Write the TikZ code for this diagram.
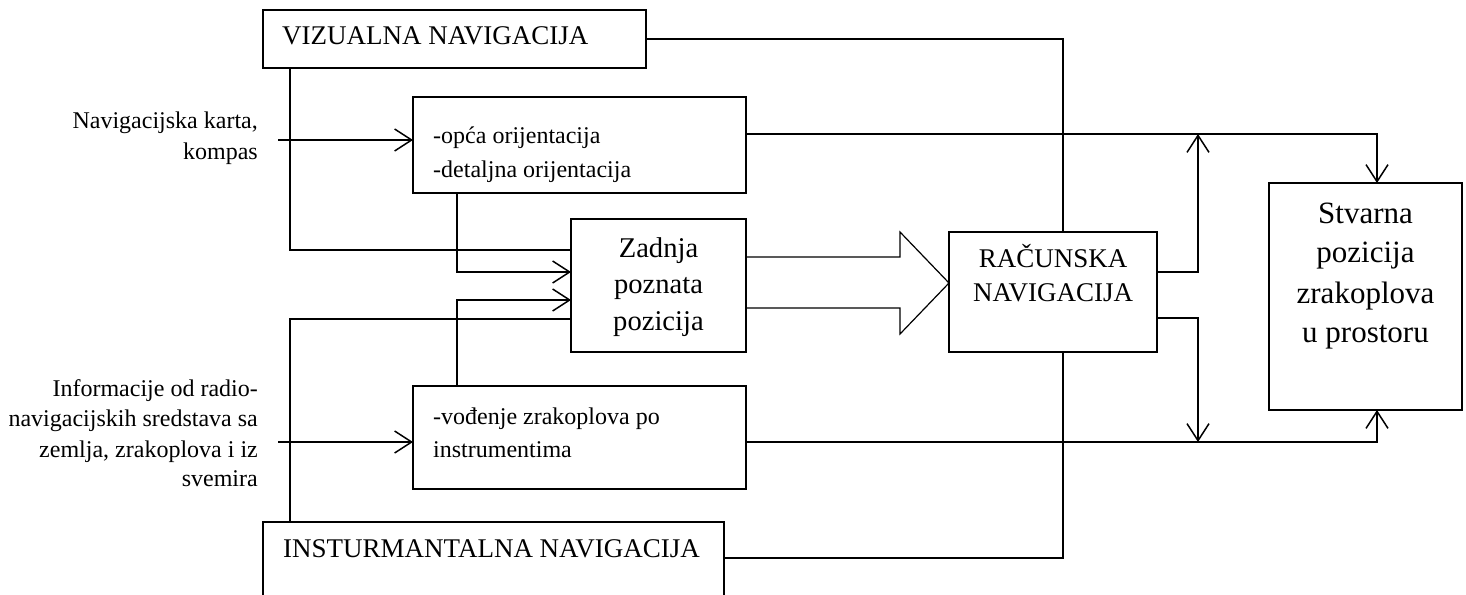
\documentclass[tikz,border=0pt]{standalone}
\usepackage{fontspec}
\setmainfont{Liberation Serif}
\usetikzlibrary{arrows.meta}
\begin{document}
\begin{tikzpicture}[x=1pt,y=-1pt,
  box/.style={draw, line width=1.2pt, anchor=north west, inner sep=0pt, outer sep=0pt},
  ln/.style={line width=1.2pt},
  arr/.style={line width=1.5pt, -{Straight Barb[length=17pt,width=22pt,line width=1.5pt]}},
  tsmall/.style={inner sep=0pt, font=\fontsize{24}{29}\selectfont},
  tcap/.style={inner sep=0pt, font=\fontsize{27}{32}\selectfont},
  tzad/.style={inner sep=0pt, font=\fontsize{28.6}{34}\selectfont},
  tstv/.style={inner sep=0pt, font=\fontsize{31}{37}\selectfont}]
\clip (0,0) rectangle (1466,594);
\useasboundingbox (0,0) rectangle (1466,594);

% boxes
\node[box, minimum width=383pt, minimum height=58pt] (viz) at (263,10) {};
\node[box, minimum width=333pt, minimum height=96pt] (opca) at (413,97) {};
\node[box, minimum width=175pt, minimum height=133pt] (zad) at (571,219) {};
\node[box, minimum width=208pt, minimum height=120pt] (rac) at (949,232) {};
\node[box, minimum width=193pt, minimum height=227pt] (stv) at (1269,183) {};
\node[box, minimum width=333pt, minimum height=103pt] (vod) at (413,386) {};
\node[box, minimum width=461pt, minimum height=100pt] (ins) at (263,522) {};

% texts
\node[tcap, anchor=base west] (vizt) at (282,45) {VIZUALNA NAVIGACIJA};
\node[tcap, anchor=base west] (inst) at (283,557) {INSTURMANTALNA NAVIGACIJA};
\node[tsmall, anchor=base west] (opt1) at (433,143) {-opća orijentacija};
\node[tsmall, anchor=base west] (opt2) at (433,177) {-detaljna orijentacija};
\node[tsmall, anchor=base west] (vodt1) at (433,424) {-vođenje zrakoplova po};
\node[tsmall, anchor=base west] (vodt2) at (433,457) {instrumentima};
\node[tzad, anchor=base] (zt1) at (658.5,257) {Zadnja};
\node[tzad, anchor=base] (zt2) at (658.5,293) {poznata};
\node[tzad, anchor=base] (zt3) at (658.5,330) {pozicija};
\node[tcap, anchor=base] (rt1) at (1053,267) {RAČUNSKA};
\node[tcap, anchor=base] (rt2) at (1053,301) {NAVIGACIJA};
\node[tstv, anchor=base] (st1) at (1365.5,223) {Stvarna};
\node[tstv, anchor=base] (st2) at (1365.5,262) {pozicija};
\node[tstv, anchor=base] (st3) at (1365.5,303) {zrakoplova};
\node[tstv, anchor=base] (st4) at (1365.5,342) {u prostoru};
\node[tsmall, anchor=base east] (la1) at (258,128) {Navigacijska karta,};
\node[tsmall, anchor=base east] (la2) at (258,159) {kompas};
\node[tsmall, anchor=base east] (lb1) at (258,396) {Informacije od radio-};
\node[tsmall, anchor=base east] (lb2) at (258,426) {navigacijskih sredstava sa};
\node[tsmall, anchor=base east] (lb3) at (258,457) {zemlja, zrakoplova i iz};
\node[tsmall, anchor=base east] (lb4) at (258,486) {svemira};

% free ends
\coordinate (ina) at (278,140);
\coordinate (inb) at (278,442);

% connectors
\draw[ln] (viz.south -| 290,0) |- (zad.west |- 0,250);
\draw[arr] (opca.south -| 457,0) |- (zad.west |- 0,272);
\draw[arr] (vod.north -| 457,0) |- (zad.west |- 0,300);
\draw[ln] (ins.north -| 290,0) |- (zad.west |- 0,319);
\draw[arr] (ina) -- (opca.west |- ina);
\draw[arr] (inb) -- (vod.west |- inb);
\draw[arr] (opca.east |- 0,134) -| (stv.north -| 1377,0);
\draw[arr] (vod.east |- 0,442) -| (stv.south -| 1377,0);
\draw[arr] (rac.east |- 0,272) -| (1198,134);
\draw[arr] (rac.east |- 0,318) -| (1198,442);
\draw[ln] (viz.east) -| (rac.north -| 1063,0);
\draw[ln] (rac.south -| 1063,0) |- (ins.east |- 0,558);

% big hollow arrow
\draw[ln] (zad.east |- 0,257) -- (900,257) -- (900,232) -- (rac.west |- 0,283)
  -- (900,334) -- (900,308) -- (zad.east |- 0,308);
\end{tikzpicture}
\end{document}
